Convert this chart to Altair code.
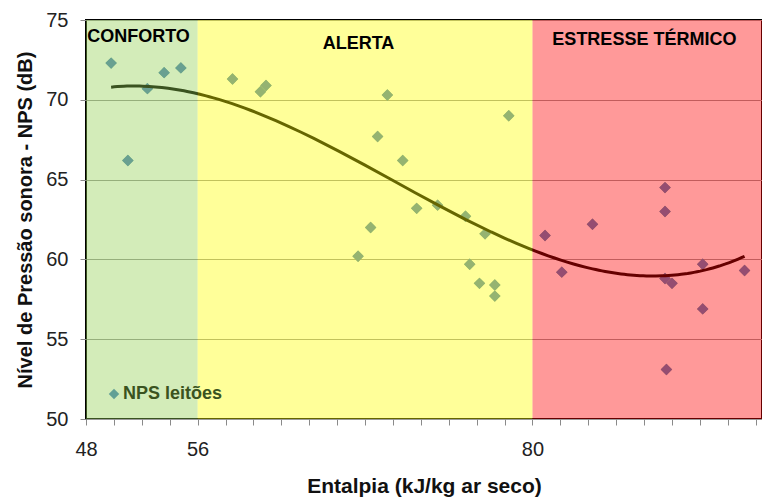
import altair as alt
import pandas as pd

# --- data ---
entalpia = [49.8, 51.0, 52.4, 53.6, 54.8, 58.5, 60.5, 60.9, 67.5, 68.4, 68.9,
            69.6, 70.7, 71.7, 73.2, 75.2, 75.5, 76.2, 76.6, 77.3, 77.3, 78.3,
            80.9, 82.1, 84.3, 89.5, 89.5, 89.5, 89.6, 90.0, 92.2, 92.2, 95.2]
nps = [72.3, 66.2, 70.7, 71.7, 72.0, 71.3, 70.5, 70.9, 60.2, 62.0, 67.7,
       70.3, 66.2, 63.2, 63.4, 62.7, 59.7, 58.5, 61.6, 58.4, 57.7, 69.0,
       61.5, 59.2, 62.2, 64.5, 63.0, 58.8, 53.1, 58.5, 59.7, 56.9, 59.3]
serie = "NPS leitões"

zona_nome = ["CONFORTO", "ALERTA", "ESTRESSE TÉRMICO"]
zona_inicio = [48, 56, 80]
zona_fim = [56, 80, 96.45]
zona_cor = ["#92D050", "#FFFF00", "#FF0000"]
rotulo_x = [51.76, 67.53, 88.02]
rotulo_y = [73.93, 73.5, 73.75]

x_ticks = list(range(48, 97, 2))
x_rotulados = [48, 56, 80]
y_ticks = [50, 55, 60, 65, 70, 75]

pts = pd.DataFrame({"entalpia": entalpia, "nps": nps, "serie": serie})
zonas = pd.DataFrame({"nome": zona_nome, "inicio": zona_inicio, "fim": zona_fim,
                      "cor": zona_cor, "lx": rotulo_x, "ly": rotulo_y})

FONT = "Liberation Sans"
xscale = alt.Scale(domain=[48, 96.45], nice=False, zero=False)
yscale = alt.Scale(domain=[50, 75], nice=False, zero=False)

lab_expr = " || ".join(f"datum.value == {v}" for v in x_rotulados)
xaxis = alt.Axis(values=x_ticks, labelExpr=f"({lab_expr}) ? datum.label : ''",
                 grid=False, domain=False, tickSize=6, tickColor="#8a8a8a",
                 labelFontSize=20, labelFont=FONT, labelColor="#222",
                 labelPadding=14, labelFlush=False, labelOverlap=False,
                 titleFontSize=21, titleFont=FONT, titleFontWeight="bold",
                 titleColor="#111", titlePadding=16)
yaxis = alt.Axis(values=y_ticks, grid=True, gridColor="#9a9a9a", gridWidth=1,
                 domain=False, tickSize=6, tickColor="#8a8a8a",
                 labelFontSize=20, labelFont=FONT, labelColor="#222",
                 labelPadding=12, labelFlush=False,
                 titleFontSize=20, titleFont=FONT, titleFontWeight="bold",
                 titleColor="#111", titlePadding=10)
XT = "Entalpia (kJ/kg ar seco)"
YT = "Nível de Pressão sonora - NPS (dB)"

base = alt.Chart(pts)

# legend carrier: same diamonds, hidden under the visible ones
legenda = base.mark_point(shape="diamond", filled=True, size=130, opacity=1).encode(
    x=alt.X("entalpia:Q", scale=xscale, axis=xaxis, title=XT),
    y=alt.Y("nps:Q", scale=yscale, axis=yaxis, title=YT),
    color=alt.Color("serie:N", scale=alt.Scale(range=["#62A095"]),
                    legend=alt.Legend(orient="none", legendX=19, legendY=365,
                                      title=None, padding=0, labelFontSize=18,
                                      labelFont=FONT, labelFontWeight="bold",
                                      labelColor="#3A5320", symbolType="diamond",
                                      symbolSize=110, symbolOpacity=1,
                                      symbolStrokeWidth=0,
                                      labelOffset=0)),
)

pontos = base.mark_point(shape="diamond", filled=True, size=130, opacity=1,
                         color="#4F81BD").encode(
    x=alt.X("entalpia:Q", scale=xscale, axis=xaxis, title=XT),
    y=alt.Y("nps:Q", scale=yscale, axis=yaxis, title=YT),
)

tendencia = base.transform_regression(
    "entalpia", "nps", method="poly", order=3
).mark_line(color="black", strokeWidth=3).encode(
    x=alt.X("entalpia:Q", scale=xscale, axis=xaxis, title=XT),
    y=alt.Y("nps:Q", scale=yscale, axis=yaxis, title=YT),
)

# translucent comfort zones laid over the data, as in the original
faixas = alt.Chart(zonas).mark_rect(fillOpacity=0.4).encode(
    x=alt.X("inicio:Q", scale=xscale, axis=xaxis, title=XT),
    x2="fim:Q",
    y=alt.Y(datum=50, scale=yscale, axis=yaxis, title=YT),
    y2=alt.Y2(datum=75),
    fill=alt.Fill("cor:N", scale=None),
)

rotulos = alt.Chart(zonas).mark_text(font=FONT, fontSize=18, fontWeight="bold",
                                     color="black", align="center",
                                     baseline="middle").encode(
    x=alt.X("lx:Q", scale=xscale, axis=xaxis, title=XT),
    y=alt.Y("ly:Q", scale=yscale, axis=yaxis, title=YT),
    text="nome:N",
)

chart = alt.layer(legenda, pontos, tendencia, faixas, rotulos).properties(
    width=676, height=399,
    padding={"left": 86, "top": 20, "right": 0, "bottom": 80},
    autosize="none",
    background="white",
).configure_view(stroke="#000", strokeWidth=2)

chart.save("out.html", embed_options={"renderer": "svg", "actions": False})
